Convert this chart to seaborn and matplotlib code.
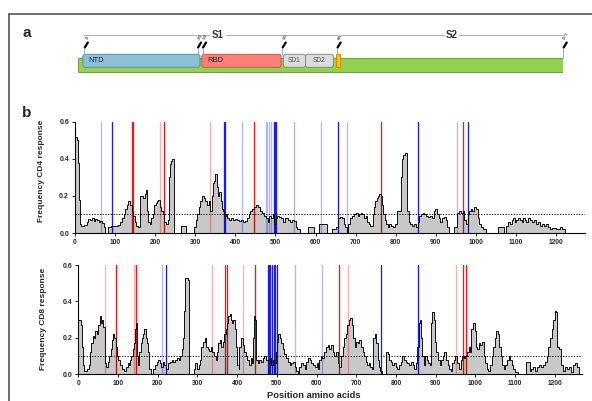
import numpy as np
import pandas as pd
import matplotlib
matplotlib.use("Agg")
import matplotlib.pyplot as plt
import seaborn as sns
from matplotlib.patches import FancyBboxPatch, Rectangle
from matplotlib.lines import Line2D

sns.set_theme(style="ticks")
plt.rcParams["font.family"] = ["Liberation Sans", "DejaVu Sans"]

# ---------------- data ----------------
# Panel a: spike domains (amino-acid coordinates on the schematic)
dom_names = ["NTD", "RBD", "SD1", "SD2"]
dom_start = [13, 325, 539, 597]
dom_end = [320, 533, 597, 670]
cleave_start, cleave_end = 676, 687
protein_len = 1273
pin_pos = [17, 314, 327, 536, 680, 1273]
pin_labels = ["13", "305", "319", "541", "685", "1273"]
s1_range = [16, 679]
s2_range = [689, 1271]

# Panel b: CD4 response frequency (step profile; NaN = gap)
cd4_pos = [0, 4, 7, 9, 11, 13, 16, 22, 29, 33, 38, 43, 47, 51, 55, 59, 63, 68, 72, 75,
           83, 90, 100, 108, 112, 117, 121, 125, 129, 133, 137, 141, 145, 149, 152, 157,
           161, 166, 170, 174, 177, 179, 182, 186, 190, 194, 197, 201, 205, 208, 211, 215,
           219, 222, 226, 231, 234, 237, 240, 243, 248, 264, 278, 298, 301, 305, 309, 313,
           317, 321, 325, 329, 333, 337, 341, 344, 347, 350, 353, 356, 359, 363, 366, 369,
           372, 376, 380, 385, 390, 395, 400, 405, 410, 415, 420, 425, 429, 433, 437, 441,
           446, 451, 456, 461, 466, 471, 476, 481, 485, 489, 493, 497, 501, 505, 510, 515,
           520, 525, 530, 535, 540, 545, 550, 554, 562, 581, 595, 608, 629, 642, 651, 656,
           661, 665, 670, 674, 678, 682, 687, 692, 697, 701, 705, 709, 713, 717, 721, 725,
           729, 733, 737, 742, 745, 749, 752, 755, 759, 763, 765, 768, 772, 776, 780, 784,
           789, 794, 799, 803, 808, 812, 815, 818, 823, 827, 829, 832, 836, 841, 846, 850,
           855, 859, 863, 867, 871, 875, 880, 885, 890, 895, 898, 903, 907, 911, 915, 920,
           925, 929, 934, 938, 946, 953, 958, 963, 967, 971, 975, 979, 983, 987, 991, 996,
           1000, 1004, 1008, 1013, 1017, 1025, 1033, 1056, 1071, 1075, 1080, 1085, 1089,
           1093, 1097, 1101, 1105, 1110, 1114, 1118, 1122, 1126, 1130, 1135, 1140, 1145,
           1150, 1155, 1160, 1165, 1170, 1175, 1180, 1185, 1190, 1200, 1210, 1215, 1221]
cd4_val = [0.52, 0.50, 0.38, 0.28, 0.18, 0.05, 0.04, 0.045, 0.06, 0.075, 0.07, 0.08, 0.065,
           0.075, 0.07, 0.06, 0.065, 0.055, 0.03, 0.0,
           0.03, 0.04, 0.04, 0.045, 0.06, 0.08, 0.10, 0.13, 0.15, 0.17, 0.15, 0.12, 0.09, 0.06,
           0.04, 0.03,
           0.20, 0.20, 0.19, 0.21, 0.23, 0.12, 0.06, 0.05, 0.08, 0.10, 0.15, 0.16, 0.17, 0.18,
           0.14, 0.12,
           0.10, 0.06, 0.05, 0.07, 0.30, 0.37, 0.39, 0.40, np.nan, 0.04, np.nan, 0.03, 0.07,
           0.10, 0.14, 0.17,
           0.20, 0.19, 0.17, 0.15, 0.17, 0.12, 0.20, 0.27, 0.28, 0.32, 0.25, 0.20, 0.22, 0.17,
           0.13, 0.12,
           0.09, 0.10, 0.08, 0.07, 0.08, 0.07, 0.075, 0.07, 0.065, 0.07, 0.06, 0.065, 0.08,
           0.10, 0.12, 0.13,
           0.14, 0.15, 0.14, 0.12, 0.11, 0.09, 0.08, 0.06, 0.09, 0.08, 0.10, 0.05, 0.08, 0.09,
           0.085, 0.08,
           0.06, 0.08, 0.07, 0.06, 0.07, 0.065, 0.03, 0.02, np.nan, 0.03, np.nan, 0.05, np.nan,
           0.02, 0.03, 0.08,
           0.085, 0.08, 0.05, 0.03, 0.0, 0.05, 0.08, 0.09, 0.10, 0.11, 0.09, 0.10, 0.11, 0.10,
           0.08, 0.09,
           0.06, 0.05, 0.04, 0.10, 0.14, 0.17, 0.19, 0.20, 0.21, 0.20, 0.15, 0.10, 0.07, 0.05,
           0.03, 0.05,
           0.04, 0.03, 0.05, 0.12, 0.12, 0.30, 0.40, 0.42, 0.43, 0.30, 0.12, 0.06, 0.05, 0.04,
           0.05, 0.03,
           0.06, 0.09, 0.10, 0.11, 0.10, 0.09, 0.085, 0.09, 0.08, 0.12, 0.13, 0.10, 0.08, 0.06,
           0.08, 0.085,
           0.07, 0.03, 0.0, np.nan, 0.03, 0.11, 0.12, 0.11, 0.12, 0.07, 0.05, 0.10, 0.12, 0.13,
           0.12, 0.14,
           0.13, 0.08, 0.05, 0.03, 0.02, 0.0, np.nan, 0.03, 0.0, 0.04, 0.06, 0.05, 0.07,
           0.08, 0.06, 0.07, 0.08, 0.07, 0.06, 0.08, 0.07, 0.06, 0.08, 0.07, 0.06, 0.07,
           0.05, 0.06, 0.04, 0.05, 0.04, 0.05, 0.03, 0.02, 0.025, 0.02, 0.03, 0.02, np.nan]

# Panel b: CD8 response frequency
cd8_pos = [0, 7, 9, 11, 14, 21, 26, 29, 32, 36, 39, 43, 46, 50, 54, 57, 60, 63, 66, 68, 71,
           74, 78, 82, 85, 88, 91, 94, 97, 101, 105, 110, 115, 120, 124, 128, 131, 134, 137,
           140, 143, 145, 148, 151, 154, 157, 160, 163, 166, 170, 173, 176, 179, 182, 188,
           192, 197, 201, 205, 209, 213, 217, 221, 226, 230, 235, 239, 244, 249, 253, 257,
           261, 264, 266, 268, 270, 276, 278, 281, 291, 295, 299, 303, 307, 310, 314, 318,
           322, 326, 330, 334, 338, 342, 346, 350, 353, 356, 360, 364, 368, 372, 375, 378,
           381, 384, 387, 390, 394, 398, 401, 404, 406, 410, 414, 418, 422, 426, 430, 434,
           437, 440, 443, 446, 448, 452, 456, 460, 465, 469, 473, 478, 482, 486, 490, 494,
           498, 501, 504, 507, 511, 515, 519, 523, 528, 532, 536, 540, 545, 549, 553, 557,
           562, 566, 570, 574, 579, 583, 587, 591, 595, 600, 604, 607, 611, 615, 620, 624,
           628, 632, 636, 641, 645, 649, 653, 657, 661, 666, 670, 674, 678, 681, 685, 689,
           692, 696, 700, 704, 708, 712, 716, 720, 724, 728, 732, 736, 740, 743, 747, 750,
           754, 757, 760, 765, 775, 779, 783, 787, 791, 795, 800, 804, 808, 812, 816, 820,
           825, 829, 833, 838, 842, 846, 850, 854, 857, 860, 863, 866, 870, 874, 878, 882,
           886, 889, 892, 895, 898, 902, 906, 910, 914, 918, 922, 926, 930, 934, 938, 942,
           946, 950, 954, 958, 963, 967, 971, 975, 979, 983, 987, 990, 994, 998, 1001, 1005,
           1009, 1013, 1017, 1021, 1025, 1029, 1033, 1037, 1041, 1045, 1049, 1053, 1057, 1060,
           1064, 1068, 1072, 1076, 1080, 1084, 1088, 1092, 1096, 1100, 1108, 1128, 1137, 1141,
           1145, 1150, 1155, 1160, 1165, 1170, 1175, 1180, 1184, 1188, 1192, 1196, 1200, 1204,
           1207, 1210, 1217, 1221, 1225, 1230, 1236, 1240, 1247, 1252, 1256, 1262, 1264]
cd8_val = [0.30, 0.27, 0.15, 0.05, 0.02, 0.03, 0.05, 0.12, 0.17, 0.21, 0.20, 0.24, 0.22, 0.27,
           0.32, 0.28, 0.30, 0.26, 0.25, 0.06, 0.04,
           0.07, 0.10, 0.14, 0.19, 0.22, 0.20, 0.15, 0.10, 0.08, 0.05, 0.03, 0.02, 0.04, 0.06,
           0.05, 0.08, 0.10, 0.14,
           0.17, 0.25, 0.28, 0.10, 0.05, 0.12, 0.17, 0.20, 0.22, 0.25, 0.20, 0.17, 0.12, 0.03,
           np.nan, 0.03,
           0.05, 0.07, 0.08, 0.06, 0.04, 0.07, 0.05, 0.03, 0.06, 0.07, 0.08, 0.07, 0.08, 0.09,
           0.08, 0.10,
           0.14, 0.20, 0.35, 0.45, 0.53, 0.52, 0.0, np.nan, 0.03, 0.06, 0.03, 0.05, 0.08, 0.15,
           0.18, 0.20,
           0.15, 0.14, 0.13, 0.15, 0.12, 0.10, 0.08, 0.12, 0.17, 0.19, 0.15, 0.18, 0.22, 0.25,
           0.28, 0.32,
           0.33, 0.30, 0.28, 0.30, 0.25, 0.15, 0.05, 0.03, 0.15, 0.20, 0.16, 0.12, 0.10, 0.08,
           0.05, 0.09,
           0.06, 0.20, 0.32, 0.30, 0.08, 0.06, 0.08, 0.07, 0.09, 0.10, 0.08, 0.06, 0.09, 0.05,
           0.08, 0.06,
           0.12, 0.18, 0.22, 0.20, 0.17, 0.14, 0.11, 0.09, 0.07, 0.05, 0.06, 0.07, 0.04, 0.02,
           0.0, 0.04,
           0.06, 0.05, 0.03, 0.07, 0.09, 0.08, 0.06, 0.05, 0.04, 0.06, 0.03, 0.08, 0.10, 0.09,
           0.12, 0.15,
           0.16, 0.14, 0.16, 0.12, 0.10, 0.12, 0.06, 0.04, 0.10, 0.15, 0.20, 0.22, 0.27, 0.30,
           0.31, 0.27,
           0.20, 0.15, 0.18, 0.17, 0.19, 0.15, 0.12, 0.10, 0.07, 0.05, 0.06, 0.04, 0.03, 0.20,
           0.22, 0.17,
           0.08, 0.04, 0.02, np.nan, 0.12, 0.11, 0.08, 0.07, 0.05, 0.06, 0.04, 0.03, 0.05, 0.07,
           0.10, 0.08,
           0.07, 0.06, 0.05, 0.07, 0.05, 0.03, 0.06, 0.15, 0.28, 0.30, 0.20, 0.10, 0.05, 0.10,
           0.08, 0.06,
           0.05, 0.28, 0.34, 0.30, 0.18, 0.12, 0.08, 0.05, 0.08, 0.10, 0.12, 0.08, 0.05, 0.03,
           0.02, 0.06,
           0.08, 0.10, 0.06, 0.03, 0.08, 0.10, 0.09, 0.10, 0.12, 0.15, 0.12, 0.25, 0.28, 0.24,
           0.15, 0.14,
           0.17, 0.16, 0.18, 0.10, 0.06, 0.03, 0.02, 0.05, 0.10, 0.15, 0.20, 0.24, 0.22, 0.15,
           0.10, 0.05, 0.03, 0.05, 0.08, 0.10, 0.08, 0.05, 0.03, 0.01, np.nan, 0.07, 0.02, 0.03,
           0.04, 0.02, 0.04, 0.05, 0.04, 0.05, 0.07, 0.10, 0.15, 0.20, 0.25, 0.30, 0.35, 0.34,
           0.15, 0.14, 0.05, 0.02, 0.04, 0.03, 0.04, 0.01, 0.05, 0.06, 0.04, 0.0, np.nan]

# Mutation positions and their colour class per panel
cd4_mut_pos = [65, 93, 142, 144, 211, 222, 337, 371, 375, 416, 446, 477, 480, 484, 488,
               496, 498, 501, 547, 614, 656, 679, 763, 856, 953, 968, 981]
cd4_mut_cls = ["lb", "b", "r", "r", "lr", "r", "lr", "b", "b", "lb", "r", "lb", "lb", "lb", "lb",
               "b", "b", "b", "lb", "lb", "b", "lb", "r", "b", "lb", "r", "b"]
cd8_mut_pos = [66, 94, 140, 145, 210, 222, 337, 369, 374, 416, 446, 477, 480, 484, 488, 493,
               496, 501, 547, 614, 656, 679, 763, 856, 952, 968, 977]
cd8_mut_cls = ["lr", "r", "lr", "r", "lb", "b", "lr", "r", "r", "lr", "r", "b", "b", "b", "b", "b",
               "b", "b", "lb", "lb", "r", "lr", "b", "b", "lr", "r", "r"]

threshold = 0.1
xticks = list(range(0, 1201, 100))
yticks = [0.0, 0.2, 0.4, 0.6]

# ---------------- figure ----------------
W, H = 592, 401
fig = plt.figure(figsize=(W / 100, H / 100), dpi=100)
fig.patch.set_facecolor("white")


def px_axes(l, t, r, b):
    return fig.add_axes([l / W, 1 - b / H, (r - l) / W, (b - t) / H])


# frame
fig.add_artist(Line2D([9 / W, 1], [1 - 14 / H, 1 - 14 / H], color="#555555", lw=1.2))
fig.add_artist(Line2D([9 / W, 9 / W], [0, 1 - 14 / H], color="#555555", lw=1.2))

fig.text(27 / W, 1 - 33 / H, "a", fontsize=11, fontweight="bold", ha="center", va="center")
fig.text(27 / W, 1 - 113 / H, "b", fontsize=11, fontweight="bold", ha="center", va="center")

# ---------------- panel a ----------------
ax_a = px_axes(78.3, 25, 563.3, 80)
ax_a.set_xlim(1, protein_len)
ax_a.set_ylim(0, 55)
ax_a.axis("off")
asp = 1 / 2.62

ax_a.add_patch(Rectangle((1, 7.7), protein_len - 1, 14, facecolor="#92d050",
                         edgecolor="#6f9e3c", lw=0.7, zorder=1))
dom_face = ["#8cc0d9", "#ff7f76", "#dcdcdc", "#dcdcdc"]
dom_edge = ["#5f8ea3", "#c05a55", "#8a8a8a", "#8a8a8a"]
for name, s, e, fc, ec in zip(dom_names, dom_start, dom_end, dom_face, dom_edge):
    ax_a.add_patch(FancyBboxPatch((s, 12.7), e - s, 13,
                                  boxstyle="round,pad=0,rounding_size=6",
                                  mutation_aspect=asp, facecolor=fc, edgecolor=ec,
                                  lw=0.7, zorder=2))
    if name in ("NTD", "RBD"):
        ax_a.text(s + 14, 19.7, name, fontsize=5.5, color="#222222", ha="left", va="center",
                  zorder=3)
    else:
        ax_a.text((s + e) / 2, 19.2, name, fontsize=4.8, color="#555555", ha="center",
                  va="center", zorder=3)
ax_a.add_patch(Rectangle((cleave_start, 12.7), cleave_end - cleave_start, 13,
                         facecolor="#ffc000", edgecolor="#c08a00", lw=0.6, zorder=2))

for rng, lab in zip([s1_range, s2_range], ["S1", "S2"]):
    ax_a.plot(rng, [45.3, 45.3], color="#b0b0b0", lw=0.8, zorder=1)
    ax_a.text(np.mean(rng) + (20 if lab == "S1" else 0), 45.3, lab, fontsize=7,
              fontweight="bold", color="#333333", ha="center", va="center",
              bbox=dict(facecolor="white", edgecolor="none", pad=1.2), zorder=2)

for p, lab in zip(pin_pos, pin_labels):
    base = 21.7 if p == protein_len else 25.7
    ax_a.plot([p, p], [base, 31.5], color="#7f9fc0", lw=0.6, zorder=3, clip_on=False)
    ax_a.plot([p + 1, p + 9], [32.5, 37.5], color="black", lw=1.6, zorder=3,
              solid_capstyle="round", clip_on=False)
    ax_a.text(p + 8, 39.5, lab, fontsize=2.6, rotation=60, ha="center", va="bottom",
              color="black", clip_on=False)

# ---------------- panel b ----------------
mut_colors = {"r": "#f01818", "lr": "#ffafaf", "b": "#1c1cf0", "lb": "#b2b6ff"}


def draw_profile(ax, pos, val, xmax, mpos, mcls, ylabel, label_xy):
    for p, c in zip(mpos, mcls):
        ax.axvline(p, color=mut_colors[c], lw=0.95, zorder=1)
    runs, xs, ys = [], [], []
    for p, v in zip(pos, val):
        if np.isnan(v):
            if xs:
                xs.append(p)
                ys.append(ys[-1])
                runs.append((xs, ys))
                xs, ys = [], []
        else:
            xs.append(p)
            ys.append(v)
    if xs:
        xs.append(xmax)
        ys.append(ys[-1])
        runs.append((xs, ys))
    rows = []
    for k, (rx, ry) in enumerate(runs):
        ax.fill_between(rx, ry, step="post", color="black", alpha=0.215, lw=0, zorder=2)
        ox, oy = [rx[0]], [0.0]
        for j in range(len(rx) - 1):
            ox += [rx[j], rx[j + 1]]
            oy += [ry[j], ry[j]]
        ox.append(rx[-1])
        oy.append(0.0)
        rows += [(k, a, b) for a, b in zip(ox, oy)]
    df = pd.DataFrame(rows, columns=["run", "pos", "freq"])
    sns.lineplot(data=df, x="pos", y="freq", units="run", estimator=None, sort=False,
                 color="#111111", lw=0.7, ax=ax, legend=False, zorder=4)
    ax.axhline(threshold, color="black", lw=0.7, ls=(0, (1.2, 1.6)), zorder=5)
    ax.set_xlim(0, xmax)
    ax.set_ylim(0, 0.6)
    ax.set_xticks(xticks)
    ax.set_xticklabels([str(t) for t in xticks], fontsize=4.8, fontweight="bold")
    ax.set_yticks(yticks)
    ax.set_yticklabels([f"{t:.1f}" for t in yticks], fontsize=5, fontweight="bold")
    ax.tick_params(direction="out", length=2.5, width=0.6, pad=1.8, color="black")
    ax.set_xlabel("")
    ax.set_ylabel(ylabel, fontsize=6, fontweight="bold")
    ax.yaxis.set_label_coords(*label_xy)
    for s in ["top", "right"]:
        ax.spines[s].set_visible(False)
    for s in ["left", "bottom"]:
        ax.spines[s].set_linewidth(0.8)
        ax.spines[s].set_color("black")
    ax.patch.set_alpha(0)


ax4 = px_axes(75, 121.7, 585, 233)
draw_profile(ax4, cd4_pos, cd4_val, 1272, cd4_mut_pos, cd4_mut_cls,
             "Frequency CD4 response", (-0.059, 0.56))
ax8 = px_axes(78.3, 265, 581.7, 374.3)
draw_profile(ax8, cd8_pos, cd8_val, 1268, cd8_mut_pos, cd8_mut_cls,
             "Frequency CD8 response", (-0.063, 0.51))

fig.text(314 / W, 1 - 399.5 / H, "Position amino acids", fontsize=6.7, fontweight="bold",
         ha="center", va="bottom")

fig.savefig("out.png", dpi=100, facecolor="white")
